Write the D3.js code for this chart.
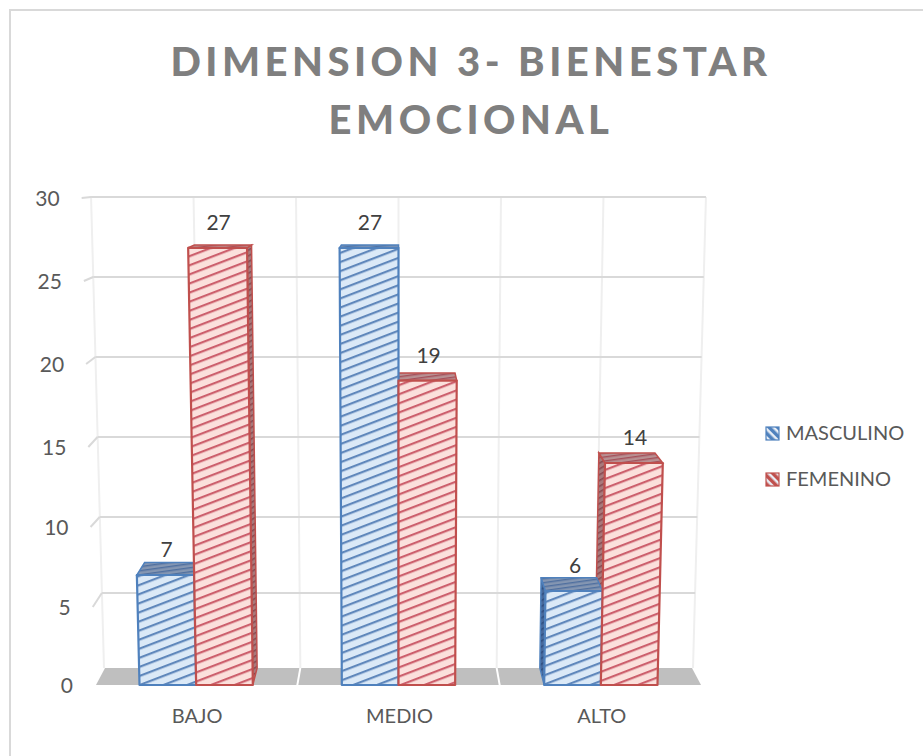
<!DOCTYPE html>
<html>
<head>
<meta charset="utf-8">
<script src="https://cdn.jsdelivr.net/npm/d3@7"></script>
<style>
    html, body {margin: 0; padding: 0; background: #fff;}
    svg {display: block;}
    text {font-family: Lato, sans-serif;}
    .tick text {font-size: 20px; fill: #595959;}
    .y-axis .tick text {font-size: 21px;}
    .bar-label {font-size: 21px; fill: #404040; text-anchor: middle;}
    .legend-label {font-size: 20px; fill: #595959;}
    .title {font-size: 40px; font-weight: 900; fill: #7f7f7f; letter-spacing: 4.5px; text-anchor: middle;}
</style>
</head>
<body>
<div id="chart"></div>
<script>
var categories = ["BAJO", "MEDIO", "ALTO"];
var masculino = [7, 27, 6];
var femenino = [27, 19, 14];
var seriesNames = ["MASCULINO", "FEMENINO"];
var yTicks = [0, 5, 10, 15, 20, 25, 30];
var titleLines = ["DIMENSION 3- BIENESTAR", "EMOCIONAL"];

var width = 923, height = 756;
var centerX = 398.5;

var svg = d3.select("#chart").append("svg")
    .attr("width", width)
    .attr("height", height);

// y is not quite linear because of the 3d perspective, so both scales go tick by tick
var yFront = d3.scaleLinear().domain(yTicks).range([685, 607, 527, 447, 364, 281, 198]);
var yBack = d3.scaleLinear().domain(yTicks).range([668, 593, 517, 437, 357, 277, 197]);

// walls lean outwards going up
var spread = d3.scaleLinear().domain([0, 30]).range([1, 1.044]);
function lean(x, v) {
    return centerX + (x - centerX) * spread(v);
}

var xFront = d3.scaleBand().domain(categories).range([95, 702]).paddingInner(0.44).paddingOuter(0.22);
var xBack = d3.scaleBand().domain(categories).range([104, 693]).paddingInner(0.44).paddingOuter(0.22);
var wallFront = d3.scaleLinear().domain([0, 3]).range([95, 702]);
var wallBack = d3.scaleLinear().domain([0, 3]).range([104, 693]);

var series = [
    {name: seriesNames[0], values: masculino, index: 0, stroke: "#4f81bd", bg: "#dbe9f7", hatch: "#5f87bb",
        top: "#8496b2", topHatch: "#4f6f9f", side: "#47699b", sideHatch: "#2f4f80"},
    {name: seriesNames[1], values: femenino, index: 1, stroke: "#c0504d", bg: "#fbe0dc", hatch: "#cc5f6c",
        top: "#b89092", topHatch: "#a4505a", side: "#a87a7c", sideHatch: "#8a4a50"}
];

// Hatch patterns
var defs = svg.append("defs");
function addHatch(id, bg, ink, spacing, thick, angle) {
    var p = defs.append("pattern")
        .attr("id", id)
        .attr("patternUnits", "userSpaceOnUse")
        .attr("width", 40)
        .attr("height", spacing)
        .attr("patternTransform", "rotate(" + angle + ")");
    p.append("rect").attr("width", 40).attr("height", spacing).attr("fill", bg);
    p.append("rect").attr("width", 40).attr("height", thick).attr("fill", ink);
}
series.forEach(function (s) {
    addHatch("front" + s.index, s.bg, s.hatch, 8.5, 2.2, -21);
    addHatch("top" + s.index, s.top, s.topHatch, 4, 1.4, -8);
    addHatch("side" + s.index, s.side, s.sideHatch, 5, 1.6, -30);
    addHatch("swatch" + s.index, s.stroke, "#e8eef6", 6, 2.5, 45);
});
// the source is a soft screenshot, take the edge off the hatching
defs.append("filter").attr("id", "soft")
    .attr("x", "-5%").attr("y", "-5%").attr("width", "110%").attr("height", "110%")
    .append("feGaussianBlur").attr("stdDeviation", 0.45);

// Floor, one slab per category
var floorGroup = svg.append("g");
categories.forEach(function (c, i) {
    var gap = 1;
    floorGroup.append("path")
        .attr("fill", "#bfbfbf")
        .attr("d", d3.line()([
            [wallFront(i) + gap, yFront(0)],
            [wallFront(i + 1) - gap, yFront(0)],
            [wallBack(i + 1) - gap, yBack(0)],
            [wallBack(i) + gap, yBack(0)]
        ]) + "Z");
});

// Back wall grid
var grid = svg.append("g");
d3.range(0, 3.5, 0.5).forEach(function (d) {
    grid.append("line")
        .attr("x1", lean(wallBack(d), 30)).attr("y1", yBack(30))
        .attr("x2", wallBack(d)).attr("y2", yBack(0))
        .attr("stroke", "#efefef")
        .attr("stroke-width", 2);
});
yTicks.slice(1).forEach(function (t) {
    grid.append("line")
        .attr("x1", lean(wallBack(0), t)).attr("y1", yBack(t))
        .attr("x2", lean(wallBack(3), t)).attr("y2", yBack(t))
        .attr("stroke", "#d9d9d9")
        .attr("stroke-width", 2);
    // little stub running down the side wall
    grid.append("line")
        .attr("x1", lean(wallBack(0), t)).attr("y1", yBack(t))
        .attr("x2", lean(wallFront(0), t)).attr("y2", yFront(t))
        .attr("stroke", "#d9d9d9")
        .attr("stroke-width", 2);
});

// Corners of one bar. back=true gives the rear face
function barX(cat, s, v, right, back) {
    var scale = back ? xBack : xFront;
    var w = scale.bandwidth() / 2;
    return lean(scale(cat) + w * (s.index + (right ? 1 : 0)), v);
}
function face(points) {
    return d3.line()(points) + "Z";
}

var bars = svg.append("g").attr("filter", "url(#soft)");
var sideLayer = bars.append("g");
var topLayer = bars.append("g");
var frontLayer = bars.append("g");

series.forEach(function (s) {
    categories.forEach(function (c, i) {
        var v = s.values[i];
        var fl = barX(c, s, v, false, false), fr = barX(c, s, v, true, false);
        var bl = barX(c, s, v, false, true), br = barX(c, s, v, true, true);
        var fl0 = barX(c, s, 0, false, false), fr0 = barX(c, s, 0, true, false);
        var bl0 = barX(c, s, 0, false, true), br0 = barX(c, s, 0, true, true);

        if (bl < fl) {
            sideLayer.append("path")
                .attr("d", face([[fl, yFront(v)], [bl, yBack(v)], [bl0, yBack(0)], [fl0, yFront(0)]]))
                .attr("fill", "url(#side" + s.index + ")")
                .attr("stroke", s.stroke).attr("stroke-width", 1.5);
        }
        if (br > fr) {
            sideLayer.append("path")
                .attr("d", face([[fr, yFront(v)], [br, yBack(v)], [br0, yBack(0)], [fr0, yFront(0)]]))
                .attr("fill", "url(#side" + s.index + ")")
                .attr("stroke", s.stroke).attr("stroke-width", 1.5);
        }
        topLayer.append("path")
            .attr("d", face([[fl, yFront(v)], [fr, yFront(v)], [br, yBack(v)], [bl, yBack(v)]]))
            .attr("fill", "url(#top" + s.index + ")")
            .attr("stroke", s.stroke).attr("stroke-width", 1.5);
        frontLayer.append("path")
            .attr("d", face([[fl, yFront(v)], [fr, yFront(v)], [fr0, yFront(0)], [fl0, yFront(0)]]))
            .attr("fill", "url(#front" + s.index + ")")
            .attr("stroke", s.stroke).attr("stroke-width", 2.2)
            .attr("stroke-linejoin", "round");

        svg.append("text")
            .attr("class", "bar-label")
            .attr("x", (fl + fr) / 2 + 1)
            .attr("y", yFront(v) - 18)
            .text(v);
    });
});

// Axes, only the labels are visible
var yAxis = svg.append("g").attr("class", "y-axis")
    .call(d3.axisLeft(yFront).tickValues(yTicks).tickSize(0).tickPadding(0));
yAxis.select(".domain").remove();
yAxis.selectAll(".tick")
    .attr("transform", function (t) {
        return "translate(" + (lean(wallFront(0), t) - 22) + "," + (yFront(t) + 1.5) + ")";
    });

var xAxis = svg.append("g")
    .attr("transform", "translate(1,709)")
    .call(d3.axisBottom(d3.scaleBand().domain(categories).range([95, 702])).tickSize(0).tickPadding(0));
xAxis.select(".domain").remove();

// Legend
var legendY = d3.scalePoint().domain(seriesNames).range([433, 479]);
series.forEach(function (s) {
    svg.append("rect")
        .attr("x", 766).attr("y", legendY(s.name) - 6)
        .attr("width", 13).attr("height", 13)
        .attr("fill", "url(#swatch" + s.index + ")")
        .attr("stroke", s.stroke).attr("stroke-width", 1.2);
    svg.append("text")
        .attr("class", "legend-label")
        .attr("x", 786).attr("y", legendY(s.name) + 7)
        .text(s.name);
});

// Title
var titleY = d3.scalePoint().domain(titleLines).range([76, 134]);
titleLines.forEach(function (t) {
    svg.append("text")
        .attr("class", "title")
        .attr("x", 471)
        .attr("y", titleY(t))
        .text(t);
});

// Chart frame, only top and left show in the crop
svg.append("path")
    .attr("d", d3.line()([[10, height], [10, 10], [width, 10]]))
    .attr("fill", "none")
    .attr("stroke", "#d9d9d9")
    .attr("stroke-width", 2);
</script>
</body>
</html>
